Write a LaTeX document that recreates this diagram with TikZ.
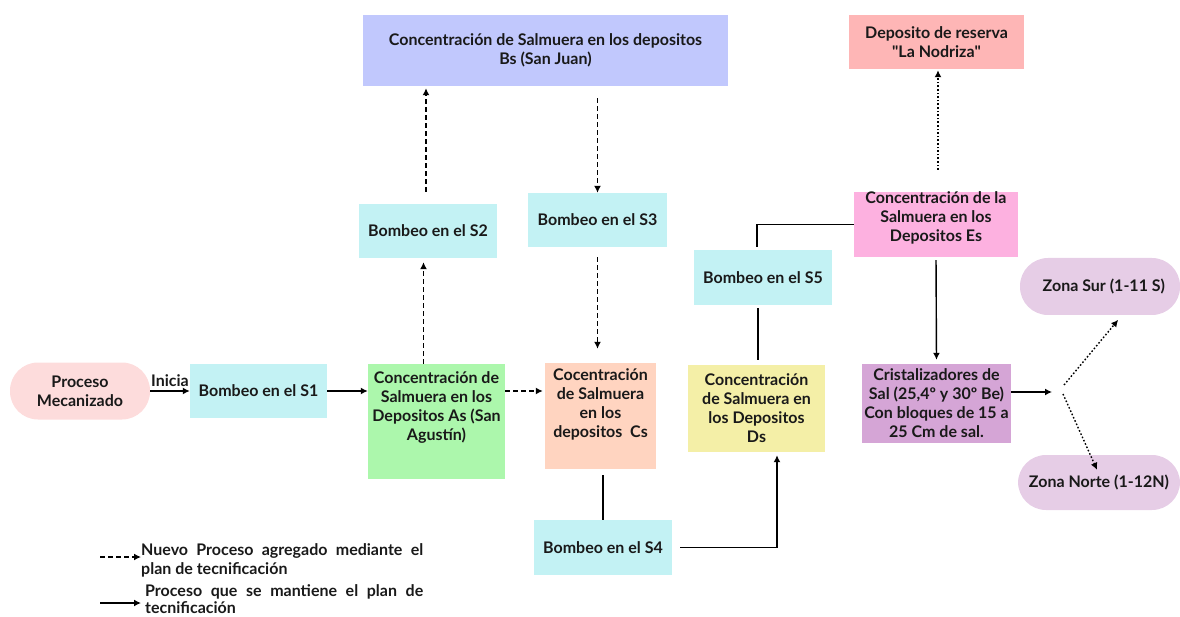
\documentclass[tikz,border=0pt]{standalone}
\usepackage{fontspec}
\setmainfont{Lato}
\usepackage{tikz}
\usetikzlibrary{arrows.meta,positioning}
\definecolor{pmcol}{HTML}{FDDCDC}
\definecolor{bombcol}{HTML}{C3F2F4}
\definecolor{ascol}{HTML}{ACF7AC}
\definecolor{bscol}{HTML}{C1C8FD}
\definecolor{cscol}{HTML}{FFD4C0}
\definecolor{dscol}{HTML}{F4EFA7}
\definecolor{escol}{HTML}{FDB1E0}
\definecolor{rescol}{HTML}{FEB6B6}
\definecolor{crcol}{HTML}{D5A5D6}
\definecolor{zonacol}{HTML}{E6CDE6}
\tikzset{
  txt/.style={font=\fontsize{16}{19}\selectfont\bfseries, text=black!90},
  box/.style={txt, inner sep=0pt, align=center},
  pill/.style={box, rounded corners=28pt},
  flow/.style={-{Latex[length=7pt,width=7pt]}, line width=1.4pt},
  newflow/.style={flow, dash pattern=on 5pt off 3pt},
  rsvflow/.style={flow, dash pattern=on 1.6pt off 2pt},
  link/.style={line width=1.4pt}
}

\begin{document}
\begin{tikzpicture}[x=1pt, y=-1pt]
		\useasboundingbox (0,0) rectangle (1180,617);
		% nodos
		\node(pm)[pill, fill=pmcol, minimum width=140pt, minimum height=57pt] at (80,391){Proceso\\Mecanizado};
		\node(s1)[box, fill=bombcol, minimum width=137pt, minimum height=54pt] at (258.5,391){Bombeo en el S1};
		\node(as)[box, fill=ascol, minimum width=137pt, minimum height=115pt] at (436.5,421.5){Concentración de\\Salmuera en los\\Depositos As (San\\Agustín)\\[12pt]};
		\node(s2)[box, fill=bombcol, minimum width=138pt, minimum height=54pt] at (428,231){Bombeo en el S2};
		\node(bs)[box, fill=bscol, minimum width=365pt, minimum height=71pt] at (545.5,50.5){Concentración de Salmuera en los depositos\\Bs (San Juan)};
		\node(s3)[box, fill=bombcol, minimum width=139pt, minimum height=54pt] at (597.5,220){Bombeo en el S3};
		\node(cs)[box, fill=cscol, minimum width=111pt, minimum height=106pt] at (600.5,416){Cocentración\\de Salmuera\\en los\\depositos~ Cs\\[6pt]};
		\node(s4)[box, fill=bombcol, minimum width=138pt, minimum height=55pt] at (603,547.5){Bombeo en el S4};
		\node(ds)[box, fill=dscol, minimum width=137pt, minimum height=87pt] at (756.5,408.5){Concentración\\de Salmuera en\\los Depositos\\Ds};
		\node(s5)[box, fill=bombcol, minimum width=138pt, minimum height=55pt] at (763,277.5){Bombeo en el S5};
		\node(es)[box, fill=escol, minimum width=164pt, minimum height=55pt] at (936,224.5){Concentración de la\\Salmuera en los\\Depositos Es\\[-4pt]};
		\node(res)[box, fill=rescol, minimum width=175pt, minimum height=54pt] at (936.5,42){Deposito de reserva\\\textquotedbl La Nodriza\textquotedbl};
		\node(cr)[box, fill=crcol, minimum width=149pt, minimum height=79pt] at (936.5,403.5){Cristalizadores de\\Sal (25,4º y 30º Be)\\Con bloques de 15 a\\25 Cm de sal.};
		\node(zs)[pill, fill=zonacol, minimum width=160pt, minimum height=57pt] at (1100,286.5){~~Zona Sur (1-11 S)};
		\node(zn)[pill, fill=zonacol, minimum width=162pt, minimum height=55pt] at (1099,482.5){Zona Norte (1-12N)};
		\coordinate(split) at (1052,392);
		\coordinate(fork1) at (1064,385);
		\coordinate(fork2) at (1063,394);
		% conexiones
		\draw[flow](pm) to node[above, txt]{Inicia}(s1);
		\draw[flow](s1) -- (as.west |- s1);
		\draw[newflow, shorten >=4pt]([xshift=-13pt]as.north) -- ([xshift=-13pt]as.north |- s2.south);
		\draw[newflow, shorten <=12pt, shorten >=2pt]([xshift=-2pt]s2.north) -- ([xshift=-2pt]s2.north |- bs.south);
		\draw[newflow, shorten <=12pt](s3.north |- bs.south) -- (s3.north);
		\draw[newflow, shorten <=10pt, shorten >=14pt](s3.south) -- (s3.south |- cs.north);
		\draw[newflow, shorten >=2pt](as.east |- s1) -- (cs.west |- s1);
		\draw[link, shorten <=6pt](s4.north |- cs.south) -- (s4.north);
		\draw[flow, shorten <=8pt, shorten >=3pt](s4.east) -| ([xshift=20.5pt]ds.south);
		\draw[link, shorten <=5pt, shorten >=3pt]([xshift=1.5pt]ds.north) -- ([xshift=1.5pt]ds.north |- s5.south);
		\draw[link, shorten <=3pt]([xshift=-6pt]s5.north) |- (es.west);
		\draw[rsvflow, shorten <=22pt, shorten >=1pt]([xshift=2pt]es.north) -- ([xshift=2pt]es.north |- res.south);
		\draw[flow, shorten <=3pt, shorten >=4pt](es.south) -- (cr.north);
		\draw[flow]([yshift=11.5pt]cr.east) -- (split);
		\draw[rsvflow, shorten >=6pt](fork1) -- ([xshift=22pt]zs.south);
		\draw[rsvflow](fork2) -- ([xshift=-2pt, yshift=-15pt]zn.north);
		% leyenda
		\coordinate(l1a) at (100,557);
		\coordinate(l1b) at (141,557);
		\coordinate(l2a) at (100,603);
		\coordinate(l2b) at (141,603);
		\draw[newflow](l1a) -- (l1b);
		\draw[flow](l2a) -- (l2b);
		\node(leg1)[txt, anchor=north west, inner sep=0pt, text width=282pt, align=justify] at (141,543){Nuevo Proceso agregado mediante el\linebreak plan de tecnificación};
		\node(leg2)[txt, anchor=north west, inner sep=0pt, text width=278pt, align=justify, font=\fontsize{16}{17}\selectfont\bfseries] at (145,584){Proceso que se mantiene el plan de\linebreak tecnificación};
	\end{tikzpicture}
\end{document}
